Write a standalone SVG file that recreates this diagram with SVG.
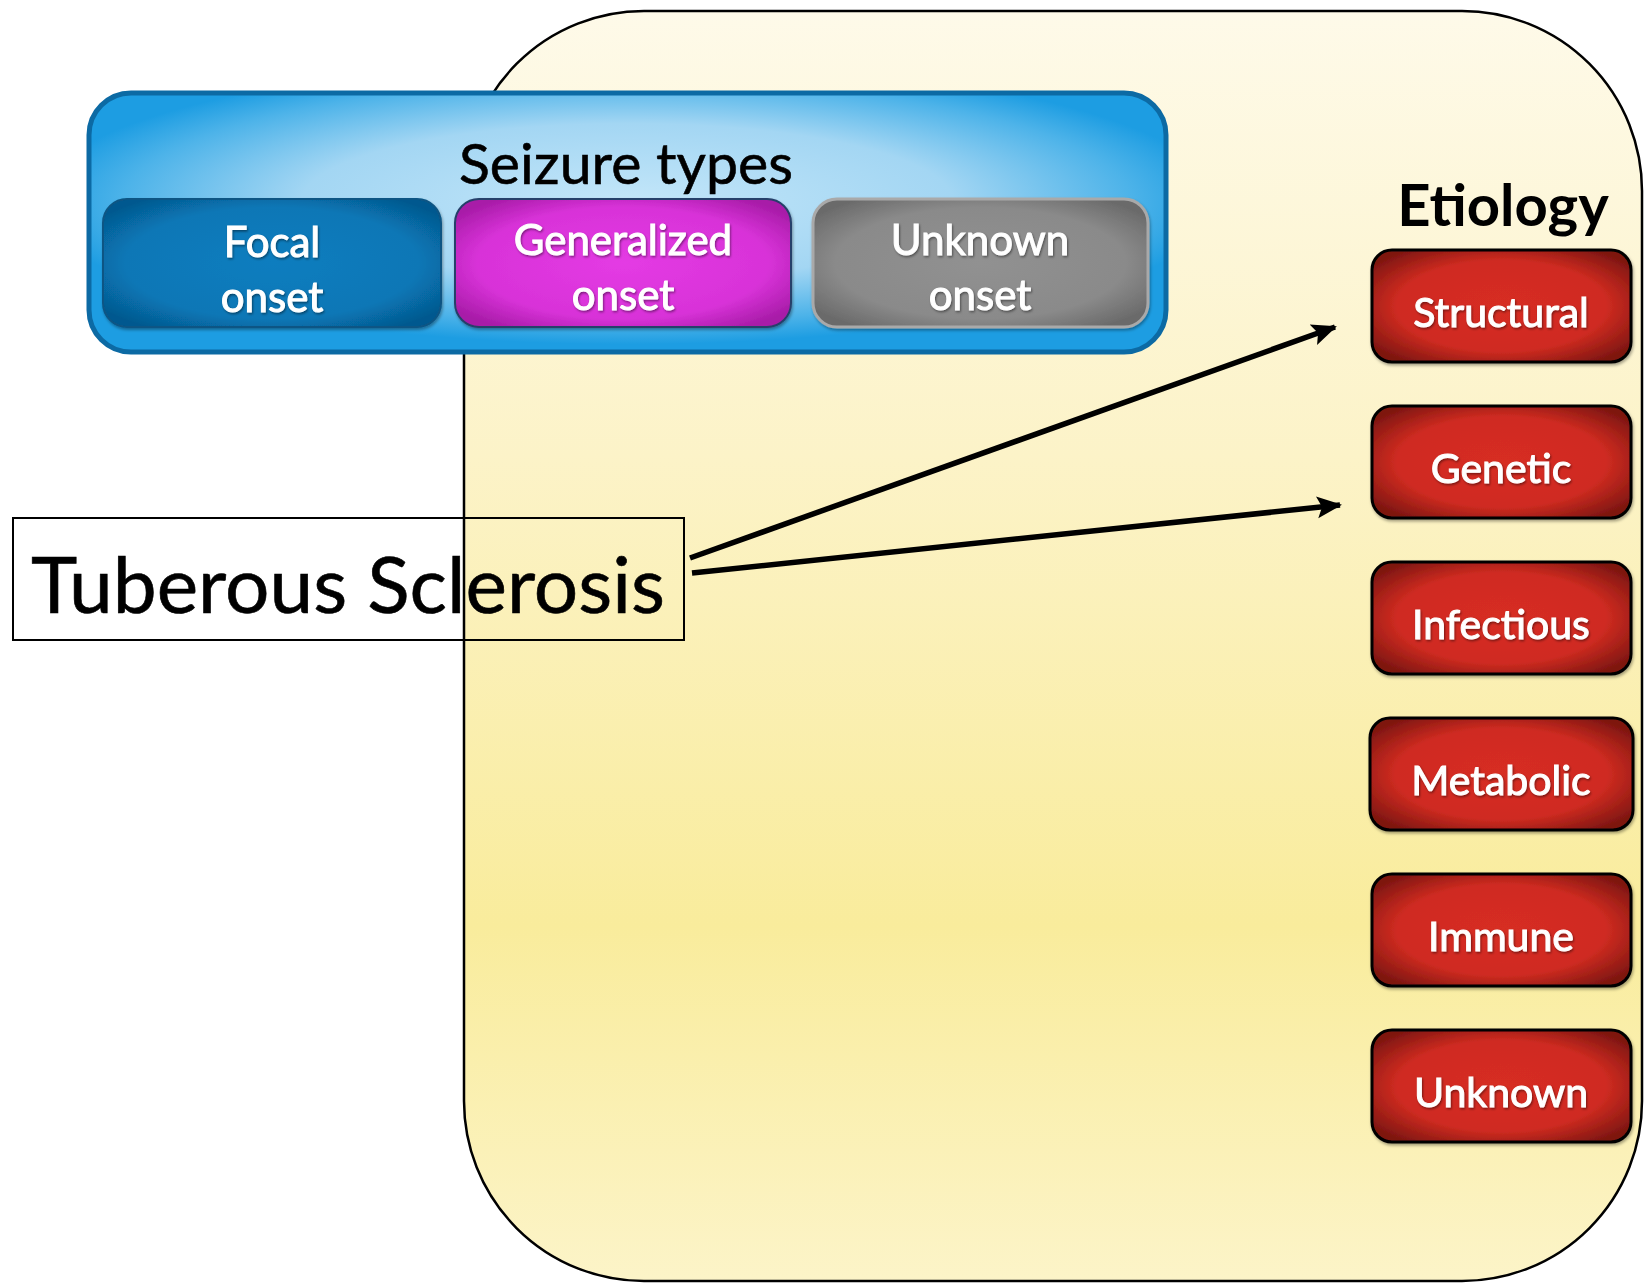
<svg xmlns="http://www.w3.org/2000/svg" width="1645" height="1284" viewBox="0 0 1645 1284">
  <defs>
    <linearGradient id="gYellow" x1="0" y1="0" x2="0" y2="1">
      <stop offset="0" stop-color="#fefae9"/>
      <stop offset="0.35" stop-color="#fcf3c8"/>
      <stop offset="0.72" stop-color="#f9ec9c"/>
      <stop offset="1" stop-color="#fcf4c8"/>
    </linearGradient>
    <radialGradient id="gBlue" cx="0.5" cy="0.42" r="0.55">
      <stop offset="0" stop-color="#c3e6f9"/>
      <stop offset="0.55" stop-color="#a3d6f3"/>
      <stop offset="0.85" stop-color="#4db3e9"/>
      <stop offset="1" stop-color="#1d9de2"/>
    </radialGradient>
    <radialGradient id="gFocal" cx="0.5" cy="0.5" r="0.62">
      <stop offset="0" stop-color="#0a7dbf"/>
      <stop offset="0.7" stop-color="#0877b6"/>
      <stop offset="1" stop-color="#05598f"/>
    </radialGradient>
    <radialGradient id="gGen" cx="0.5" cy="0.5" r="0.62">
      <stop offset="0" stop-color="#e43be4"/>
      <stop offset="0.7" stop-color="#d832d8"/>
      <stop offset="1" stop-color="#a81ca8"/>
    </radialGradient>
    <radialGradient id="gGray" cx="0.5" cy="0.5" r="0.62">
      <stop offset="0" stop-color="#919191"/>
      <stop offset="0.7" stop-color="#8a8a8a"/>
      <stop offset="1" stop-color="#6a6a6a"/>
    </radialGradient>
    <radialGradient id="gRed" cx="0.5" cy="0.5" r="0.62">
      <stop offset="0" stop-color="#d72d22"/>
      <stop offset="0.65" stop-color="#cf2b21"/>
      <stop offset="1" stop-color="#7e1610"/>
    </radialGradient>
    <marker id="arrow" markerUnits="userSpaceOnUse" markerWidth="28" markerHeight="26" refX="23" refY="13" orient="auto">
      <path d="M0,2 L25,13 L0,24 L5,13 Z" fill="#000"/>
    </marker>
    <filter id="shadow" x="-10%" y="-10%" width="120%" height="130%">
      <feDropShadow dx="1" dy="2" stdDeviation="1.5" flood-color="#000" flood-opacity="0.35"/>
    </filter>
    <filter id="tshadow" x="-5%" y="-10%" width="110%" height="130%">
      <feDropShadow dx="1" dy="1.5" stdDeviation="1" flood-color="#000" flood-opacity="0.45"/>
    </filter>
    <style>
      .t { font-family: Lato, "Noto Sans", "DejaVu Sans", sans-serif; }
      .wh { fill: #ffffff; stroke: #ffffff; stroke-width: 1; font-size: 42px; text-anchor: middle; }
      .red rect { fill: url(#gRed); stroke: #000; stroke-width: 3; }
      .red text { fill: #ffffff; stroke: #ffffff; stroke-width: 1; font-size: 41px; text-anchor: middle; }
      .conn line { stroke: #000; stroke-width: 5.5; marker-end: url(#arrow); }
    </style>
  </defs>

  <rect width="1645" height="1284" fill="#ffffff"/>

  <g id="etiology-area">
    <rect x="464" y="11" width="1178" height="1270" rx="180" ry="180" fill="url(#gYellow)" stroke="#000" stroke-width="2.5"/>
  </g>

  <g id="seizure-types">
    <rect x="89" y="93" width="1077" height="259" rx="42" ry="42" fill="url(#gBlue)" stroke="#0c6aa4" stroke-width="5"/>
    <text class="t" x="626" y="184" font-size="57" text-anchor="middle" fill="#000" stroke="#000" stroke-width="0.6" textLength="334" lengthAdjust="spacingAndGlyphs">Seizure types</text>
  </g>

  <g id="focal-onset">
    <rect x="103" y="199" width="338" height="128" rx="24" ry="24" fill="url(#gFocal)" stroke="#0a5584" stroke-width="2" filter="url(#shadow)"/>
    <text class="t wh" x="272" y="257" filter="url(#tshadow)">Focal</text>
    <text class="t wh" x="272" y="312" filter="url(#tshadow)">onset</text>
  </g>

  <g id="generalized-onset">
    <rect x="455" y="199" width="336" height="128" rx="24" ry="24" fill="url(#gGen)" stroke="#263f6a" stroke-width="2" filter="url(#shadow)"/>
    <text class="t wh" x="623" y="255" filter="url(#tshadow)">Generalized</text>
    <text class="t wh" x="623" y="310" filter="url(#tshadow)">onset</text>
  </g>

  <g id="unknown-onset">
    <rect x="813" y="199" width="335" height="128" rx="24" ry="24" fill="url(#gGray)" stroke="#a9a9a9" stroke-width="3" filter="url(#shadow)"/>
    <text class="t wh" x="980" y="255" filter="url(#tshadow)">Unknown</text>
    <text class="t wh" x="980" y="310" filter="url(#tshadow)">onset</text>
  </g>

  <g id="tuberous-sclerosis">
    <rect x="13" y="518" width="671" height="122" fill="none" stroke="#000" stroke-width="2"/>
    <text class="t" x="348" y="613" font-size="77" text-anchor="middle" fill="#000" stroke="#000" stroke-width="0.6" textLength="634" lengthAdjust="spacingAndGlyphs">Tuberous Sclerosis</text>
  </g>

  <g id="etiology-title">
    <text class="t" x="1503" y="226" font-size="58" font-weight="bold" text-anchor="middle" fill="#000">Etiology</text>
  </g>

  <g id="structural" class="red">
    <rect x="1372" y="250" width="259" height="112" rx="20" ry="20" filter="url(#shadow)"/>
    <text class="t" x="1501" y="327" filter="url(#tshadow)">Structural</text>
  </g>
  <g id="genetic" class="red">
    <rect x="1372" y="406" width="259" height="112" rx="20" ry="20" filter="url(#shadow)"/>
    <text class="t" x="1501" y="483" filter="url(#tshadow)">Genetic</text>
  </g>
  <g id="infectious" class="red">
    <rect x="1372" y="562" width="259" height="112" rx="20" ry="20" filter="url(#shadow)"/>
    <text class="t" x="1501" y="639" filter="url(#tshadow)">Infectious</text>
  </g>
  <g id="metabolic" class="red">
    <rect x="1370" y="718" width="263" height="112" rx="20" ry="20" filter="url(#shadow)"/>
    <text class="t" x="1501" y="795" filter="url(#tshadow)">Metabolic</text>
  </g>
  <g id="immune" class="red">
    <rect x="1372" y="874" width="259" height="112" rx="20" ry="20" filter="url(#shadow)"/>
    <text class="t" x="1501" y="951" filter="url(#tshadow)">Immune</text>
  </g>
  <g id="unknown" class="red">
    <rect x="1372" y="1030" width="259" height="112" rx="20" ry="20" filter="url(#shadow)"/>
    <text class="t" x="1501" y="1107" filter="url(#tshadow)">Unknown</text>
  </g>

  <g id="connectors" class="conn">
    <line x1="690" y1="558" x2="1335" y2="327"/>
    <line x1="692" y1="573" x2="1340" y2="505"/>
  </g>
</svg>
